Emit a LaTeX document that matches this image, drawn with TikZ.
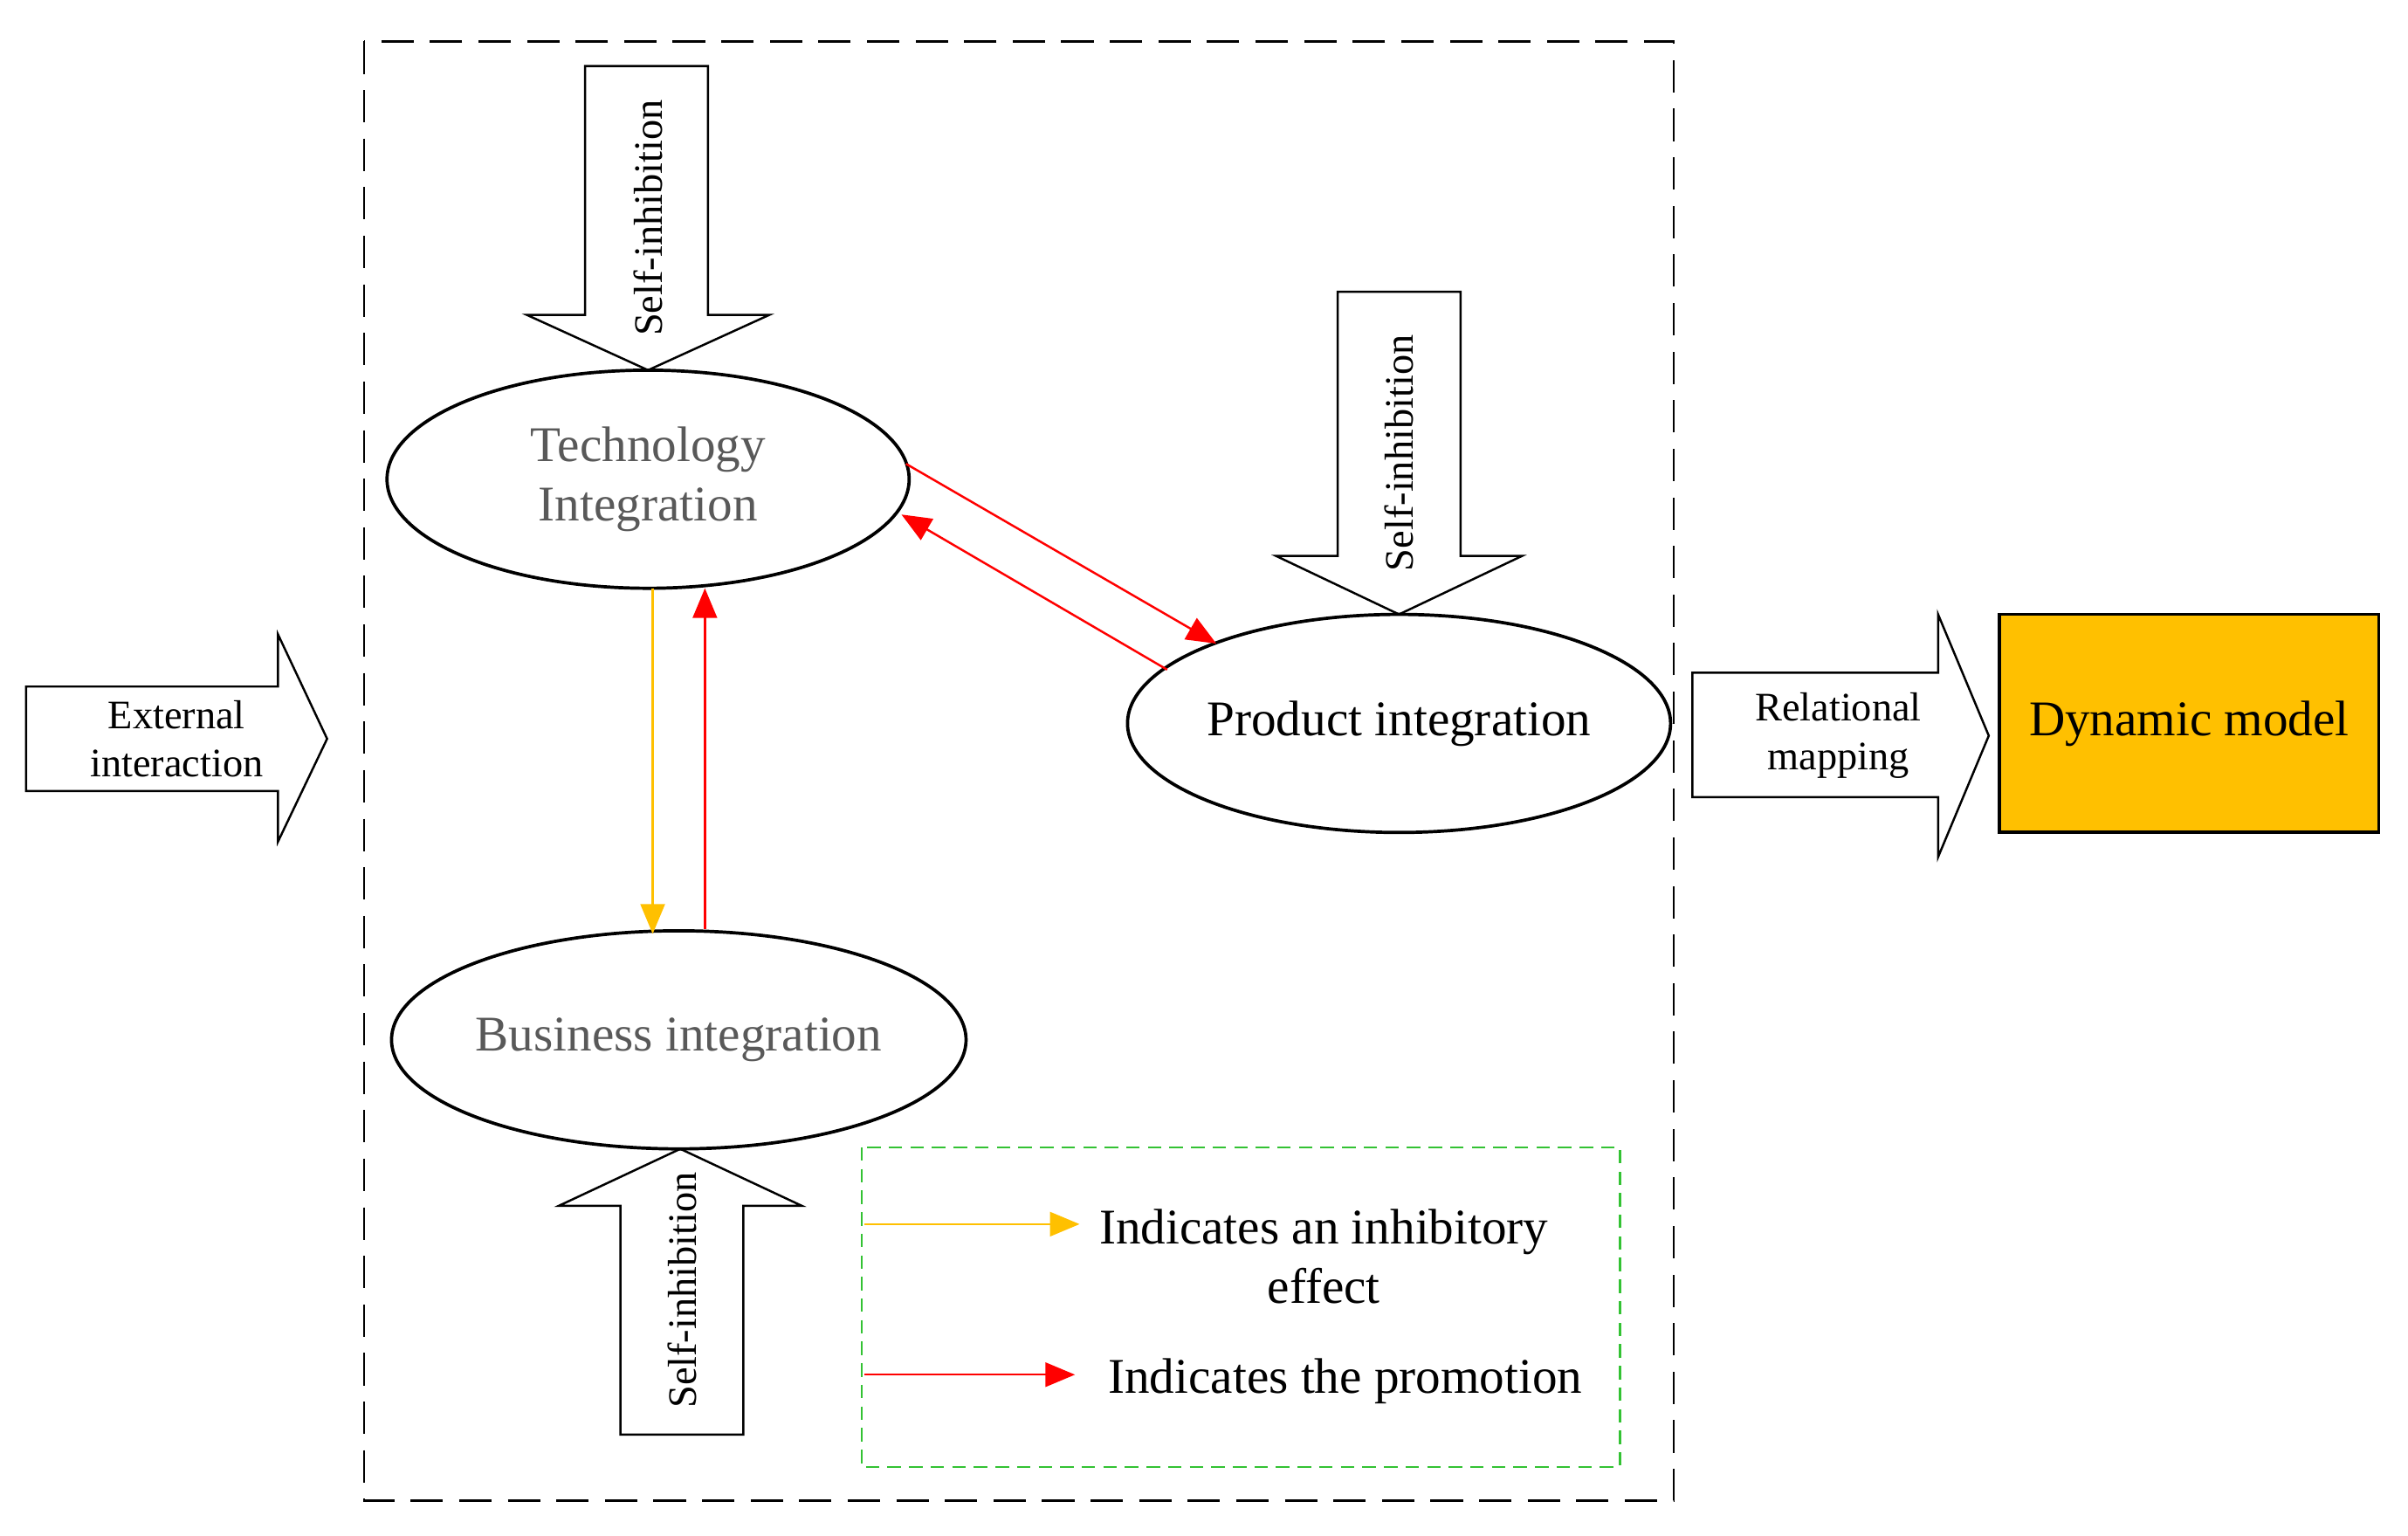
\documentclass[tikz,border=0pt]{standalone}
\usepackage{fontspec}
\setmainfont{Liberation Serif}
\usetikzlibrary{arrows.meta,shapes.geometric}
\definecolor{yel}{HTML}{FFC000}
\begin{document}
\begin{tikzpicture}[x=0.02cm,y=-0.02cm,
  ell/.style={draw,very thick,ellipse,inner sep=0pt,minimum width=340*0.02cm,minimum height=142*0.02cm,align=center,font=\fontsize{18.5}{22}\selectfont},
  fat/.style={draw,thick,fill=white},
  lab/.style={font=\fontsize{15}{18}\selectfont,align=center},
  rot/.style={font=\fontsize{15}{18}\selectfont,rotate=90},
  arr/.style={thick,-{Triangle[length=11pt,width=9pt]}}]
\useasboundingbox (0,0) rectangle (1568,1000);
\draw[thick,dash pattern=on 12pt off 6pt] (237,27) rectangle (1090,977);
% self-inhibition arrows
\draw[fat] (381,43)--(461,43)--(461,205)--(501,205)--(422,241)--(343,205)--(381,205)--cycle;
\node[rot] (s1) at (422,142) {Self-inhibition};
\draw[fat] (871,190)--(951,190)--(951,362)--(991,362)--(911,400)--(831,362)--(871,362)--cycle;
\node[rot] (s2) at (911,295) {Self-inhibition};
\draw[fat] (404,934)--(484,934)--(484,785)--(522,785)--(443,748)--(364,785)--(404,785)--cycle;
\node[rot] (s3) at (444,840) {Self-inhibition};
% side arrows
\draw[fat] (17,447)--(181,447)--(181,413)--(213,481)--(181,548)--(181,515)--(17,515)--cycle;
\node[lab] (ext) at (115,481) {External\\interaction};
\draw[fat] (1102,438)--(1262,438)--(1262,400)--(1295,479)--(1262,558)--(1262,519)--(1102,519)--cycle;
\node[lab] (rel) at (1197,479) {Relational\\mapping};
\node[draw,very thick,fill=yel,minimum width=247*0.02cm,minimum height=142*0.02cm,font=\fontsize{18.5}{22}\selectfont] (dm) at (1425.5,471) {Dynamic model};
% ellipses
\node[ell,text=black!65] (tech) at (422,312) {Technology\\Integration};
\node[ell] (prod) at (911,471) {Product integration};
\node[ell,text=black!65] (bus) at (442,677) {Business integration};
% connectors
\draw[arr,yel] (425,383) -- (425,608);
\draw[arr,red] (459,605) -- (459,383);
\draw[arr,red] (590,302) -- (792,419);
\draw[arr,red] (760,436) -- (587,335);
% legend
\draw[thick,green!70!black!80,dash pattern=on 5pt off 3pt] (561,747) rectangle (1055,955);
\coordinate (l1a) at (563,797); \coordinate (l1b) at (703,797);
\coordinate (l2a) at (563,895); \coordinate (l2b) at (700,895);
\draw[arr,yel] (l1a) -- (l1b);
\draw[arr,red] (l2a) -- (l2b);
\node[align=center,font=\fontsize{18.5}{22}\selectfont] (t1) at (862,818) {Indicates an inhibitory\\effect};
\node[font=\fontsize{18.5}{22}\selectfont] (t2) at (876,899) {Indicates the promotion};
\end{tikzpicture}
\end{document}
